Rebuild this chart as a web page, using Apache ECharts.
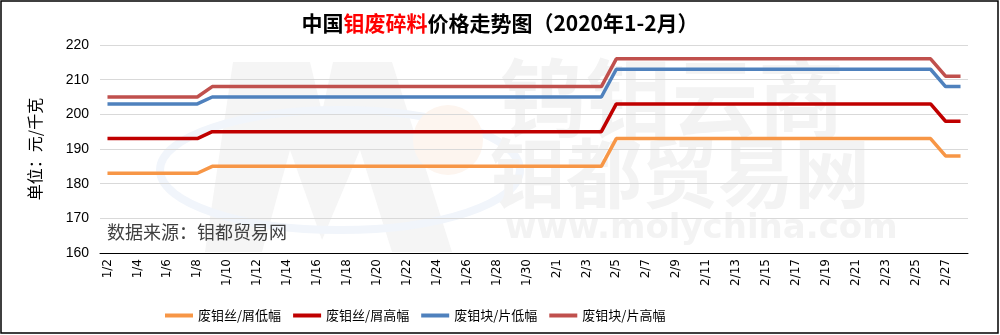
<!DOCTYPE html>
<html>
<head>
<meta charset="utf-8">
<script src="https://cdn.jsdelivr.net/npm/echarts@6/dist/echarts.min.js"></script>
<style>
html,body{margin:0;padding:0;background:#fff;}
#chart{width:1000px;height:335px;}
</style>
</head>
<body>
<div id="chart"></div>
<script>
var categories = ['1/2','1/3','1/4','1/5','1/6','1/7','1/8','1/9','1/10','1/11','1/12','1/13','1/14','1/15','1/16','1/17','1/18','1/19','1/20','1/21','1/22','1/23','1/24','1/25','1/26','1/27','1/28','1/29','1/30','1/31','2/1','2/2','2/3','2/4','2/5','2/6','2/7','2/8','2/9','2/10','2/11','2/12','2/13','2/14','2/15','2/16','2/17','2/18','2/19','2/20','2/21','2/22','2/23','2/24','2/25','2/26','2/27','2/28'];

var wireLow  = [183,183,183,183,183,183,183,185,185,185,185,185,185,185,185,185,185,185,185,185,185,185,185,185,185,185,185,185,185,185,185,185,185,185,193,193,193,193,193,193,193,193,193,193,193,193,193,193,193,193,193,193,193,193,193,193,188,188];
var wireHigh = [193,193,193,193,193,193,193,195,195,195,195,195,195,195,195,195,195,195,195,195,195,195,195,195,195,195,195,195,195,195,195,195,195,195,203,203,203,203,203,203,203,203,203,203,203,203,203,203,203,203,203,203,203,203,203,203,198,198];
var blockLow = [203,203,203,203,203,203,203,205,205,205,205,205,205,205,205,205,205,205,205,205,205,205,205,205,205,205,205,205,205,205,205,205,205,205,213,213,213,213,213,213,213,213,213,213,213,213,213,213,213,213,213,213,213,213,213,213,208,208];
var blockHigh= [205,205,205,205,205,205,205,208,208,208,208,208,208,208,208,208,208,208,208,208,208,208,208,208,208,208,208,208,208,208,208,208,208,208,216,216,216,216,216,216,216,216,216,216,216,216,216,216,216,216,216,216,216,216,216,216,211,211];

var seriesNames = ['废钼丝/屑低幅','废钼丝/屑高幅','废钼块/片低幅','废钼块/片高幅'];
var seriesColors = ['#F79646','#C00000','#4F81BD','#C0504D'];
var seriesData = [wireLow, wireHigh, blockLow, blockHigh];
var yTicks = {min:160, max:220, interval:10};

var chart = echarts.init(document.getElementById('chart'), null, {renderer:'canvas'});
var cjk = '"Noto Sans CJK SC", sans-serif';

var option = {
  backgroundColor:'#ffffff',
  animation:false,
  title:{
    text:'{b|中国}{r|钼废碎料}{b|价格走势图（2020年1-2月）}',
    left:'center', top:8,
    textStyle:{
      rich:{
        b:{fontSize:21,fontWeight:'bold',color:'#000',fontFamily:cjk},
        r:{fontSize:21,fontWeight:'bold',color:'#FF0000',fontFamily:cjk}
      }
    }
  },
  graphic:[
    {type:'rect', z:100, silent:true, shape:{x:1,y:1,width:997,height:332}, style:{fill:'none',stroke:'#000',lineWidth:1.5}},
    {type:'polygon', z:-10, silent:true, shape:{points:[[205,252],[233,62],[310,62],[322,112],[333,62],[392,62],[452,252],[392,252],[360,150],[322,240],[290,150],[262,252]]}, style:{fill:'#f5f5f5'}},
    {type:'ellipse', z:-10, silent:true, shape:{cx:340,cy:170,rx:180,ry:60}, style:{fill:'none',stroke:'#f1f5fb',lineWidth:8}},
    {type:'circle', z:-10, silent:true, shape:{cx:448,cy:140,r:35}, style:{fill:'#fdf5ef'}},
    {type:'text', z:-10, silent:true, left:500, top:55, style:{text:'钨钼云商', fontSize:86, fontWeight:'bold', fill:'#f3f3f3', fontFamily:cjk}},
    {type:'text', z:-10, silent:true, left:490, top:135, style:{text:'钼都贸易网', fontSize:76, fontWeight:'bold', fill:'#f3f3f3', fontFamily:cjk}},
    {type:'text', z:-10, silent:true, left:505, top:212, style:{text:'www.molychina.com', fontSize:34, fontWeight:'bold', fill:'#f3f3f3', fontFamily:'"DejaVu Sans", sans-serif'}},
    {type:'text', z:50, silent:true, left:107, top:223, style:{text:'数据来源：钼都贸易网', fontSize:18, fill:'#404040', fontFamily:cjk}}
  ],
  legend:{
    bottom:8, left:160,
    itemWidth:28, itemHeight:4, itemGap:12,
    icon:'rect',
    textStyle:{fontSize:13,color:'#000',fontFamily:cjk},
    data:seriesNames
  },
  grid:{left:100, right:32, top:45, bottom:82, containLabel:false},
  xAxis:{
    type:'category',
    data:categories,
    boundaryGap:true,
    axisLine:{lineStyle:{color:'#000',width:1}},
    axisTick:{interval:1,length:5,lineStyle:{color:'#000'}},
    axisLabel:{interval:1,rotate:90,fontSize:12,color:'#000',margin:6,fontFamily:'"DejaVu Sans", sans-serif'}
  },
  yAxis:{
    type:'value',
    min:yTicks.min, max:yTicks.max, interval:yTicks.interval,
    name:'单位：元/千克',
    nameLocation:'middle',
    nameGap:57,
    nameRotate:90,
    nameMoveOverlap:false,
    nameTextStyle:{fontSize:16,color:'#000',fontFamily:cjk},
    axisLine:{show:false},
    axisTick:{show:false},
    axisLabel:{fontSize:14,color:'#000',margin:11,fontFamily:'"Liberation Sans", sans-serif'},
    splitLine:{lineStyle:{color:'#d9d9d9',width:1}}
  },
  series:seriesNames.map(function(n,i){
    return {
      name:n, type:'line', data:seriesData[i],
      symbol:'none', z:3+i,
      lineStyle:{color:seriesColors[i], width:3.5},
      itemStyle:{color:seriesColors[i]}
    };
  })
};
chart.setOption(option);
</script>
</body>
</html>
